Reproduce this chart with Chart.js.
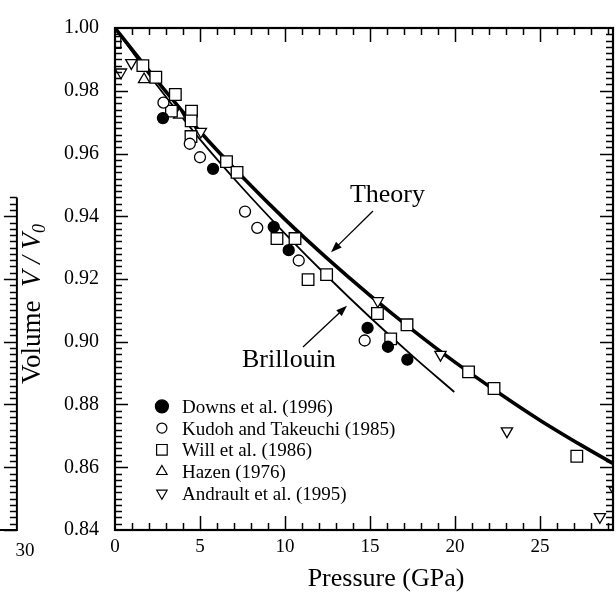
<!DOCTYPE html>
<html><head><meta charset="utf-8"><title>Volume vs Pressure</title>
<script src="https://cdn.jsdelivr.net/npm/chart.js@4/dist/chart.umd.min.js"></script>
<style>html,body{margin:0;padding:0;background:#fff;overflow:hidden}canvas{display:block}</style>
</head><body>
<canvas id="chart" width="616" height="592"></canvas>
<script>
// ---------------- data ----------------
const xTickValues = [0, 5, 10, 15, 20, 25];
const yTickValues = [0.84, 0.86, 0.88, 0.90, 0.92, 0.94, 0.96, 0.98, 1.00];
const seriesLabels = ['Downs et al. (1996)', 'Kudoh and Takeuchi (1985)', 'Will et al. (1986)', 'Hazen (1976)', 'Andrault et al. (1995)'];
const lineLabels = ['Theory', 'Brillouin'];

const downsP = [2.82, 5.77, 9.34, 10.22, 14.86, 16.06, 17.2];
const downsV = [0.9713, 0.9551, 0.9366, 0.9292, 0.9044, 0.8984, 0.8943];

const kudohP = [2.85, 4.40, 5.00, 7.65, 8.37, 10.81, 14.69];
const kudohV = [0.9762, 0.9631, 0.9588, 0.9415, 0.9363, 0.9259, 0.9004];

const willP = [0.0, 1.64, 2.40, 3.55, 3.32, 4.50, 4.48, 4.47, 6.56, 7.18, 9.53, 10.59, 11.36, 12.45, 15.44, 17.18, 16.22, 20.8, 22.3, 27.17];
const willV = [0.9954, 0.988, 0.9843, 0.9788, 0.9735, 0.9735, 0.9704, 0.9654, 0.9574, 0.954, 0.9329, 0.9329, 0.9198, 0.9214, 0.909, 0.9054, 0.9009, 0.8904, 0.8851, 0.8635];

const hazenP = [1.71, 3.78];
const hazenV = [0.9836, 0.9723];

const andraultP = [0.35, 0.96, 5.05, 15.46, 19.15, 23.06, 28.53, 29.4];
const andraultV = [0.9859, 0.9889, 0.967, 0.913, 0.8959, 0.8715, 0.8442, 0.8526];

const theoryP = [0, 2.5, 5, 7.5, 10, 12.5, 15, 17.5, 20, 22.5, 25, 27.5, 29.3];
const theoryV = [1.0, 0.983, 0.967, 0.9525, 0.939, 0.9265, 0.9148, 0.9038, 0.8935, 0.884, 0.875, 0.8668, 0.8612];

const brillouinP = [0, 2.5, 5, 7.5, 10, 12.5, 15, 17.5, 19.96];
const brillouinV = [1.0, 0.9815, 0.9645, 0.949, 0.9345, 0.9208, 0.9078, 0.8955, 0.884];

// ---------------- helpers / styling ----------------
const SERIF = '"Liberation Serif", "Times New Roman", serif';
const pts = (P, V) => P.map((p, i) => ({x: p, y: V[i]}));

const markerStyles = [
  {style: 'circle', fill: '#000', r: 5.5, rot: 0},
  {style: 'circle', fill: '#fff', r: 5.5, rot: 0},
  {style: 'rect', fill: '#fff', r: 8.2, rot: 0},
  {style: 'triangle', fill: '#fff', r: 6.5, rot: 0},
  {style: 'triangle', fill: '#fff', r: 6.5, rot: 180}
];
const seriesData = [pts(downsP, downsV), pts(kudohP, kudohV), pts(willP, willV), pts(hazenP, hazenV), pts(andraultP, andraultV)];

const datasets = seriesLabels.map((lab, i) => ({
  label: lab,
  data: seriesData[i],
  showLine: false,
  pointStyle: markerStyles[i].style,
  pointRotation: markerStyles[i].rot,
  pointRadius: markerStyles[i].r,
  pointBackgroundColor: markerStyles[i].fill,
  pointBorderColor: '#000',
  pointBorderWidth: 1.3,
  order: 1
}));
datasets.push({
  label: lineLabels[0], data: pts(theoryP, theoryV), showLine: true,
  borderColor: '#000', borderWidth: 3.6, pointRadius: 0,
  cubicInterpolationMode: 'monotone', order: 10
});
datasets.push({
  label: lineLabels[1], data: pts(brillouinP, brillouinV), showLine: true,
  borderColor: '#000', borderWidth: 1.8, pointRadius: 0,
  cubicInterpolationMode: 'monotone', order: 10
});

// annotation placement (data coordinates)
const theoryNote = {textAt: [13.82, 0.9446], tail: [15.18, 0.9417], head: [12.71, 0.9285]};
const brillNote = {textAt: [7.47, 0.892], tail: [11.06, 0.8983], head: [13.65, 0.9115]};
const legendAt = {markerX: 2.76, textX: 3.94, firstY: 0.8794, rowPx: 21.7};

function drawMarker(ctx, m, x, y, r) {
  ctx.save();
  ctx.translate(x, y);
  ctx.rotate(m.rot * Math.PI / 180);
  ctx.beginPath();
  if (m.style === 'circle') ctx.arc(0, 0, r, 0, Math.PI * 2);
  else if (m.style === 'rect') { const s = r; ctx.rect(-s, -s, 2 * s, 2 * s); }
  else { for (let k = 0; k < 3; k++) { const a = k * 2 * Math.PI / 3; ctx.lineTo(Math.sin(a) * r, -Math.cos(a) * r); } ctx.closePath(); }
  ctx.fillStyle = m.fill; ctx.fill();
  ctx.lineWidth = 1.2; ctx.strokeStyle = '#000'; ctx.stroke();
  ctx.restore();
}

function arrow(ctx, x1, y1, x2, y2) {
  const ang = Math.atan2(y2 - y1, x2 - x1), L = 11, W = 4;
  ctx.beginPath(); ctx.moveTo(x1, y1);
  ctx.lineTo(x2 - Math.cos(ang) * L * 0.8, y2 - Math.sin(ang) * L * 0.8);
  ctx.lineWidth = 1.3; ctx.stroke();
  ctx.beginPath(); ctx.moveTo(x2, y2);
  ctx.lineTo(x2 - Math.cos(ang) * L - Math.sin(ang) * W, y2 - Math.sin(ang) * L + Math.cos(ang) * W);
  ctx.lineTo(x2 - Math.cos(ang) * L + Math.sin(ang) * W, y2 - Math.sin(ang) * L - Math.cos(ang) * W);
  ctx.closePath(); ctx.fill();
}

const decor = {
  id: 'decor',
  afterDatasetsDraw(chart) {
    const {ctx, chartArea: a, scales: {x, y}} = chart;
    const X = v => x.getPixelForValue(v), Y = v => y.getPixelForValue(v);
    ctx.save();
    ctx.strokeStyle = '#000'; ctx.fillStyle = '#000';
    // frame
    ctx.lineWidth = 2.2;
    ctx.strokeRect(a.left, a.top, a.right - a.left, a.bottom - a.top);
    // inward ticks
    ctx.lineWidth = 1.5;
    ctx.beginPath();
    for (let p = 1; p <= x.max; p++) {
      const px = Math.round(X(p)) + 0.5;
      const L = p % 5 === 0 ? 14 : 7;
      ctx.moveTo(px, a.bottom); ctx.lineTo(px, a.bottom - L);
      ctx.moveTo(px, a.top); ctx.lineTo(px, a.top + L);
    }
    for (let i = 1; i < 80; i++) {
      const py = Math.round(Y(0.84 + i * 0.002)) + 0.5;
      const L = i % 10 === 0 ? 13 : 7;
      ctx.moveTo(a.left, py); ctx.lineTo(a.left + L, py);
      ctx.moveTo(a.right, py); ctx.lineTo(a.right - L, py);
    }
    ctx.stroke();

    // wrapped right-hand axis strip seen at the far left of the scan
    const wx = X(30) - 608;
    ctx.lineWidth = 2;
    ctx.beginPath(); ctx.moveTo(wx, Y(0.946)); ctx.lineTo(wx, a.bottom); ctx.lineTo(0, a.bottom); ctx.stroke();
    ctx.lineWidth = 1.5; ctx.beginPath();
    for (let i = 0; i <= 53; i++) {
      const py = Math.round(Y(0.84 + i * 0.002)) + 0.5;
      const L = i % 10 === 0 ? 13 : 7;
      ctx.moveTo(wx, py); ctx.lineTo(wx - L, py);
    }
    ctx.stroke();
    ctx.font = '19px ' + SERIF; ctx.textAlign = 'center'; ctx.textBaseline = 'alphabetic';
    ctx.fillText('30', wx + 8, 556);

    // legend
    ctx.font = '19px ' + SERIF; ctx.textAlign = 'left'; ctx.textBaseline = 'alphabetic';
    const legendR = [6.5, 5, 5.3, 6, 6];
    seriesLabels.forEach((lab, i) => {
      const cy = Y(legendAt.firstY) + i * legendAt.rowPx;
      drawMarker(ctx, markerStyles[i], X(legendAt.markerX), cy, legendR[i]);
      ctx.fillStyle = '#000';
      ctx.fillText(lab, X(legendAt.textX), cy + 6.5);
    });

    // annotations
    ctx.font = '26px ' + SERIF;
    ctx.fillText(lineLabels[0], X(theoryNote.textAt[0]), Y(theoryNote.textAt[1]));
    ctx.fillText(lineLabels[1], X(brillNote.textAt[0]), Y(brillNote.textAt[1]));
    arrow(ctx, X(theoryNote.tail[0]), Y(theoryNote.tail[1]), X(theoryNote.head[0]), Y(theoryNote.head[1]));
    arrow(ctx, X(brillNote.tail[0]), Y(brillNote.tail[1]), X(brillNote.head[0]), Y(brillNote.head[1]));

    // axis titles
    ctx.font = '26px ' + SERIF; ctx.textAlign = 'center';
    ctx.fillText('Pressure (GPa)', 386, 586);

    ctx.translate(31, 384); ctx.rotate(-Math.PI / 2);
    const parts = [
      {t: 'Volume  ', f: '27px ' + SERIF, dy: 0},
      {t: 'V', f: 'italic 27px ' + SERIF, dy: 0},
      {t: ' / ', f: 'italic 27px ' + SERIF, dy: 0},
      {t: 'V', f: 'italic 27px ' + SERIF, dy: 0},
      {t: '0', f: 'italic 18px ' + SERIF, dy: 5}
    ];
    let cx = 0;
    ctx.textAlign = 'left';
    parts.forEach(p => { ctx.font = p.f; ctx.fillText(p.t, cx, 9 + p.dy); cx += ctx.measureText(p.t).width; });
    ctx.restore();
  }
};

new Chart(document.getElementById('chart'), {
  type: 'scatter',
  data: {datasets},
  options: {
    responsive: false,
    animation: false,
    events: [],
    layout: {autoPadding: false, padding: {top: 22, right: 3, left: 0, bottom: 0}},
    plugins: {legend: {display: false}, tooltip: {enabled: false}},
    scales: {
      x: {
        type: 'linear', min: 0, max: 29.3,
        afterBuildTicks: s => { s.ticks = xTickValues.map(v => ({value: v})); },
        afterFit: s => { s.height = 62; },
        grid: {display: false, drawTicks: false},
        border: {display: false},
        ticks: {color: '#000', font: {family: SERIF, size: 19}, padding: 6, maxRotation: 0, autoSkip: false},
        title: {display: false}
      },
      y: {
        type: 'linear', min: 0.84, max: 1.0,
        afterBuildTicks: s => { s.ticks = yTickValues.map(v => ({value: v})); },
        afterFit: s => { s.width = 115; },
        grid: {display: false, drawTicks: false},
        border: {display: false},
        ticks: {color: '#000', font: {family: SERIF, size: 20}, padding: 16, autoSkip: false,
          callback: v => Number(v).toFixed(2)},
        title: {display: false}
      }
    }
  },
  plugins: [decor]
});
</script>
</body></html>
